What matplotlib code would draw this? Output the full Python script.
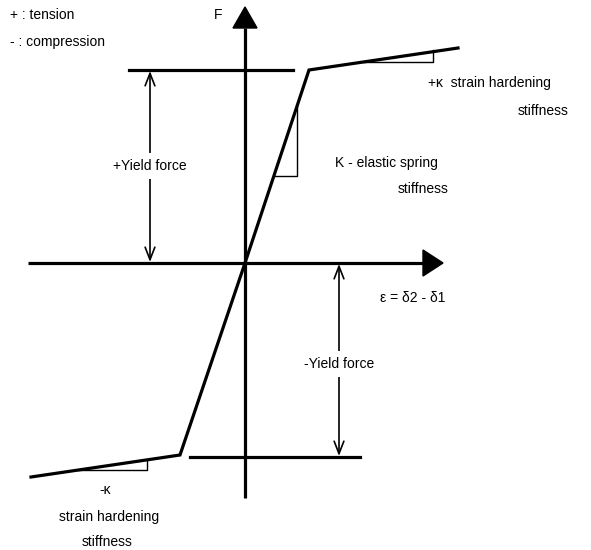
import numpy as np
import matplotlib.pyplot as plt
from matplotlib.patches import Polygon

# =============================================================================
# DATA  — diagram geometry in image units (x right, y down), origin at (245, 263)
# =============================================================================

origin = (245, 263)

# bilinear force / deformation curve
curve_x = [31, 180, 245, 309, 458]
curve_y = [477, 455, 263, 70, 48]

# yield force levels (horizontal reference lines)
yield_pos_y, yield_pos_x = 70, (129, 293)
yield_neg_y, yield_neg_x = 457, (190, 360)

# dimension arrows for the yield forces
dim_pos_x = 150
dim_neg_x = 339

# slope triangles: (x, y) vertices
tri_hard_pos = [(363, 62), (433, 62), (433, 50)]
tri_elastic = [(274, 176), (297, 176), (297, 106)]
tri_hard_neg = [(78, 470), (147, 470), (147, 460)]

# text labels: (x, y, text, ha)
labels = [
    (10, 15, "+ : tension", "left"),
    (10, 42, "- : compression", "left"),
    (218, 15, "F", "center"),
    (489, 83, "+\u03ba  strain hardening", "center"),
    (543, 111, "stiffness", "center"),
    (386, 163, "K - elastic spring", "center"),
    (423, 189, "stiffness", "center"),
    (413, 298, "\u03b5 = \u03b42 - \u03b41", "center"),
    (105, 490, "-\u03ba", "center"),
    (109, 517, "strain hardening", "center"),
    (107, 542, "stiffness", "center"),
]

# =============================================================================
# PLOT
# =============================================================================

plt.rcParams["font.family"] = ["Liberation Sans", "DejaVu Sans"]
FS = 10

fig = plt.figure(figsize=(5.91, 5.5), dpi=100)
ax = fig.add_axes([0, 0, 1, 1])
ax.set_xlim(0, 591)
ax.set_ylim(550, 0)
ax.axis("off")

ox, oy = origin
axis_lw = 2.3

# axes lines with filled arrowheads
ax.plot([28, 423], [oy, oy], color="black", lw=axis_lw, solid_capstyle="butt")
ax.add_patch(Polygon([(423, oy - 13), (443, oy), (423, oy + 13)], closed=True,
                     color="black"))
ax.plot([ox, ox], [498, 28], color="black", lw=axis_lw, solid_capstyle="butt")
ax.add_patch(Polygon([(ox - 12, 28), (ox, 7), (ox + 12, 28)], closed=True,
                     color="black"))

# curve
ax.plot(curve_x, curve_y, color="black", lw=axis_lw, solid_joinstyle="miter")

# yield lines
ax.plot(yield_pos_x, [yield_pos_y] * 2, color="black", lw=axis_lw)
ax.plot(yield_neg_x, [yield_neg_y] * 2, color="black", lw=axis_lw)

# dimension arrows
arrow_kw = dict(arrowstyle="<->,head_length=0.9,head_width=0.35",
                color="black", lw=1.2, shrinkA=0, shrinkB=0)
ax.annotate("", xy=(dim_pos_x, yield_pos_y + 1), xytext=(dim_pos_x, oy - 1),
            arrowprops=arrow_kw)
ax.annotate("", xy=(dim_neg_x, yield_neg_y - 1), xytext=(dim_neg_x, oy + 1),
            arrowprops=arrow_kw)
ax.text(dim_pos_x, 166, "+Yield force", ha="center", va="center", fontsize=FS,
        bbox=dict(facecolor="white", edgecolor="none", pad=4))
ax.text(dim_neg_x, 364, "-Yield force", ha="center", va="center", fontsize=FS,
        bbox=dict(facecolor="white", edgecolor="none", pad=4))

# slope triangles (open: two legs only)
for tri in (tri_hard_pos, tri_elastic, tri_hard_neg):
    xs, ys = zip(*tri)
    ax.plot(xs, ys, color="black", lw=1.0)

for x, y, s, ha in labels:
    ax.text(x, y, s, ha=ha, va="center", fontsize=FS)

fig.savefig("out.png", dpi=100)
